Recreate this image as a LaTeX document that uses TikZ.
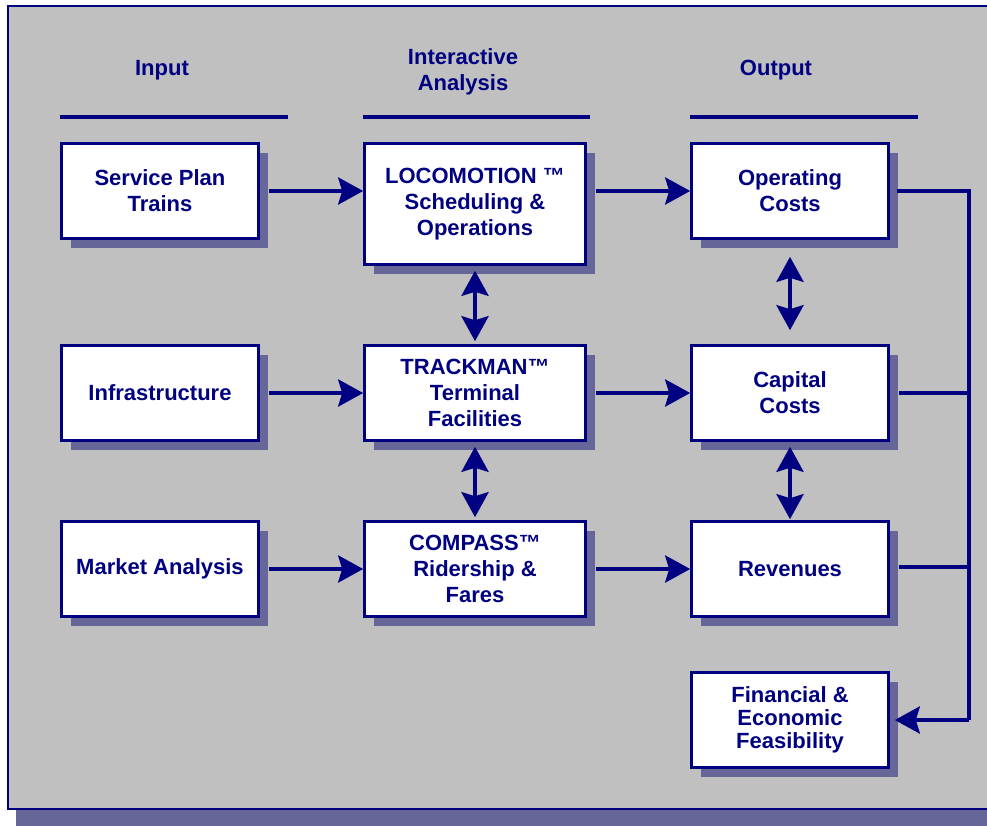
\documentclass[tikz,border=0pt]{standalone}
\usepackage{fontspec}
\setmainfont{Liberation Sans}
\usetikzlibrary{arrows.meta,positioning,calc,shadows}
\definecolor{navy}{RGB}{0,0,128}
\definecolor{panelgrey}{RGB}{192,192,192}
\definecolor{boxshade}{RGB}{102,102,153}

\begin{document}
\begin{tikzpicture}[
  x=1pt, y=-1pt,
  box/.style={draw=navy, fill=white, line width=2.6pt, minimum width=197pt,
    minimum height=95pt, align=center, text=navy,
    font=\bfseries\fontsize{22}{26}\selectfont,
    general shadow={fill=boxshade, shadow xshift=9pt, shadow yshift=-9pt}},
  heading/.style={text=navy, align=center, font=\bfseries\fontsize{22}{26}\selectfont},
  rule/.style={navy, line width=4pt},
  arrow/.style={navy, line width=4pt, -{Stealth[length=25pt, width=27pt, inset=4pt]}},
  dblarrow/.style={navy, line width=4pt,
    {Stealth[length=25pt, width=27pt, inset=4pt]}-{Stealth[length=25pt, width=27pt, inset=4pt]}},
  bus/.style={navy, line width=4pt}
]
\useasboundingbox (0,0) rectangle (987,825);
\clip (0,0) rectangle (987,825);
% panel
\fill[boxshade] (16,14) rectangle (1000,830);
\draw[navy, fill=panelgrey, line width=1.5pt] (8,6) rectangle (1000,809);

% headings
\node[heading] (hin) at (162,70) {Input};
\node[heading] (hia) at (463,72) {Interactive\\Analysis};
\node[heading] (hout) at (776,70) {Output};
\draw[rule] (60,117) -- (288,117);
\draw[rule] (363,117) -- (590,117);
\draw[rule] (690,117) -- (918,117);

% Input
\node[box] (svc) at (160,191) {Service Plan\\Trains};
\node[box] (infra) at (160,393) {Infrastructure};
\node[box] (mkt) at (160,569) {Market Analysis};
% Interactive Analysis
\node[box, minimum width=221pt, minimum height=121pt] (loco) at (475,204)
  {LOCOMOTION ™\\Scheduling \&\\Operations};
\node[box, minimum width=221pt] (track) at (475,393)
  {TRACKMAN™\\Terminal\\Facilities};
\node[box, minimum width=221pt] (comp) at (475,569)
  {COMPASS™\\Ridership \&\\Fares};
% Output
\node[box] (opc) at (790,191) {Operating\\Costs};
\node[box] (capc) at (790,393) {Capital\\Costs};
\node[box] (rev) at (790,569) {Revenues};
\node[box, font=\bfseries\fontsize{22}{23}\selectfont] (fin) at (790,720)
  {Financial \&\\Economic\\Feasibility};

% flows
\draw[arrow] ([xshift=9pt]svc.east) -- (svc.east -| loco.west);
\draw[arrow] ([xshift=9pt]infra.east) -- (track.west);
\draw[arrow] ([xshift=9pt]mkt.east) -- (comp.west);
\draw[arrow] ([xshift=9pt]loco.east |- opc.west) -- (opc.west);
\draw[arrow] ([xshift=9pt]track.east) -- (capc.west);
\draw[arrow] ([xshift=9pt]comp.east) -- (rev.west);

% interactions
\draw[dblarrow] ([yshift=-5pt]loco.south) -- ([yshift=3pt]track.north);
\draw[dblarrow] ([yshift=-5pt]track.south) -- ([yshift=3pt]comp.north);
\draw[dblarrow] ([yshift=-17pt]opc.south) -- ([yshift=14pt]capc.north);
\draw[dblarrow] ([yshift=-5pt]capc.south) -- ([yshift=1pt]rev.north);

% collector to feasibility
\coordinate (busx) at (969,0);
\draw[bus] ([xshift=7pt]opc.east) -- (opc.east -| busx) -- (fin.east -| busx);
\draw[bus] ([xshift=9pt]capc.east) -- (capc.east -| busx);
\draw[bus] ([xshift=9pt,yshift=2pt]rev.east) -- ([yshift=2pt]rev.east -| busx);
\draw[arrow] (fin.east -| busx) -- ([xshift=5pt]fin.east);
\end{tikzpicture}
\end{document}
